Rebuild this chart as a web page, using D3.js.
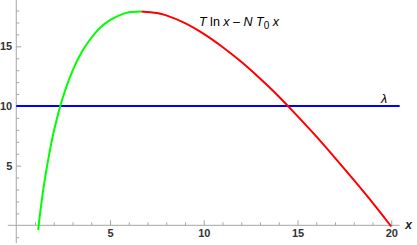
<!DOCTYPE html>
<html>
<head>
<meta charset="utf-8">
<script src="https://cdn.jsdelivr.net/npm/d3@7"></script>
<style>
  body { margin: 0; background: #fff; }
  svg { display: block; }
</style>
</head>
<body>
<div id="chart"></div>
<script>
// values
const riseX = [1.17, 1.3, 1.5, 1.75, 2, 2.5, 3, 3.5, 4, 4.5, 5, 5.5, 6, 6.67];
const riseY = [-0.4, 1.35, 3.6, 5.9, 7.85, 10.8, 12.95, 14.55, 15.7, 16.6, 17.2, 17.6, 17.85, 17.93];
const fallX = [6.67, 7.5, 8, 9, 10, 11, 12, 13, 14, 15, 16, 17, 18, 19, 20];
const fallY = [17.93, 17.8, 17.6, 16.95, 16.05, 14.95, 13.7, 12.3, 10.8, 9.15, 7.45, 5.65, 3.8, 1.9, -0.1];
const lambda = 10;
const xTicks = [5, 10, 15, 20];
const yTicks = [5, 10, 15];

const W = 417, H = 245;
const svg = d3.select('#chart').append('svg')
  .attr('width', W).attr('height', H);

const x = d3.scaleLinear().domain([0, 20]).range([16.25, 391.25]);
const y = d3.scaleLinear().domain([0, 10]).range([225.3, 106]);

const axisColor = '#a6a6a6';

// y axis
const yMinor = d3.range(-1, 19).filter(v => v !== 0 && !yTicks.includes(v));
svg.append('g').attr('transform', `translate(${x(0)},0)`)
  .call(d3.axisLeft(y).tickValues(yMinor).tickSize(-3).tickFormat(''))
  .call(g => g.select('.domain').remove());
svg.append('g').attr('transform', `translate(${x(0)},0)`)
  .call(d3.axisLeft(y).tickValues(yTicks).tickSize(-5).tickPadding(4))
  .call(g => g.select('.domain').remove());

// x axis
const xMinor = d3.range(1, 21).filter(v => !xTicks.includes(v));
svg.append('g').attr('transform', `translate(0,${y(0)})`)
  .call(d3.axisBottom(x).tickValues(xMinor).tickSize(-3).tickFormat(''))
  .call(g => g.select('.domain').remove());
svg.append('g').attr('transform', `translate(0,${y(0)})`)
  .call(d3.axisBottom(x).tickValues(xTicks).tickSize(-5).tickPadding(4))
  .call(g => g.select('.domain').remove());

svg.selectAll('.tick line').attr('stroke', axisColor).attr('stroke-width', 1);
svg.selectAll('.tick text')
  .attr('fill', '#333').attr('font-family', 'Liberation Sans, Arial, sans-serif')
  .attr('font-size', 11).attr('font-weight', 'bold');

// axis lines
svg.append('line')
  .attr('x1', x(0)).attr('x2', x(0)).attr('y1', y(18.9)).attr('y2', y(-1.5))
  .attr('stroke', axisColor);
svg.append('line')
  .attr('x1', x(-0.45)).attr('x2', x(20.45)).attr('y1', y(0)).attr('y2', y(0))
  .attr('stroke', axisColor);

svg.append('text')
  .attr('x', x(20.75)).attr('y', y(0) + 4)
  .attr('font-family', 'Liberation Sans, Arial, sans-serif')
  .attr('font-size', 12).attr('font-weight', 'bold').attr('font-style', 'italic')
  .attr('fill', '#222')
  .text('x');

// lambda line
svg.append('line')
  .attr('x1', x(0)).attr('x2', x(20.45)).attr('y1', y(lambda)).attr('y2', y(lambda))
  .attr('stroke', '#0000ff').attr('stroke-width', 2);

const line = d3.line().x(d => x(d[0])).y(d => y(d[1])).curve(d3.curveCatmullRom.alpha(0.5));

svg.append('path')
  .attr('d', line(fallX.map((v, i) => [v, fallY[i]])))
  .attr('fill', 'none').attr('stroke', '#ff0000').attr('stroke-width', 2);
svg.append('path')
  .attr('d', line(riseX.map((v, i) => [v, riseY[i]])))
  .attr('fill', 'none').attr('stroke', '#00ff00').attr('stroke-width', 2);

// labels
const lab = svg.append('text')
  .attr('x', 199).attr('y', 26)
  .attr('font-family', 'Liberation Sans, Arial, sans-serif')
  .attr('font-size', 12.5).attr('fill', '#000');
lab.append('tspan').attr('font-style', 'italic').text('T');
lab.append('tspan').text(' ln ');
lab.append('tspan').attr('font-style', 'italic').text('x');
lab.append('tspan').text(' \u2013 ');
lab.append('tspan').attr('font-style', 'italic').text('N T');
lab.append('tspan').attr('font-size', 10).attr('dy', 3).text('0');
lab.append('tspan').attr('font-style', 'italic').attr('dy', -3).text(' x');

svg.append('text')
  .attr('x', 381).attr('y', 103)
  .attr('font-family', 'Liberation Sans, Arial, sans-serif')
  .attr('font-size', 12.5).attr('font-style', 'italic').attr('fill', '#000')
  .text('\u03bb');
</script>
</body>
</html>
